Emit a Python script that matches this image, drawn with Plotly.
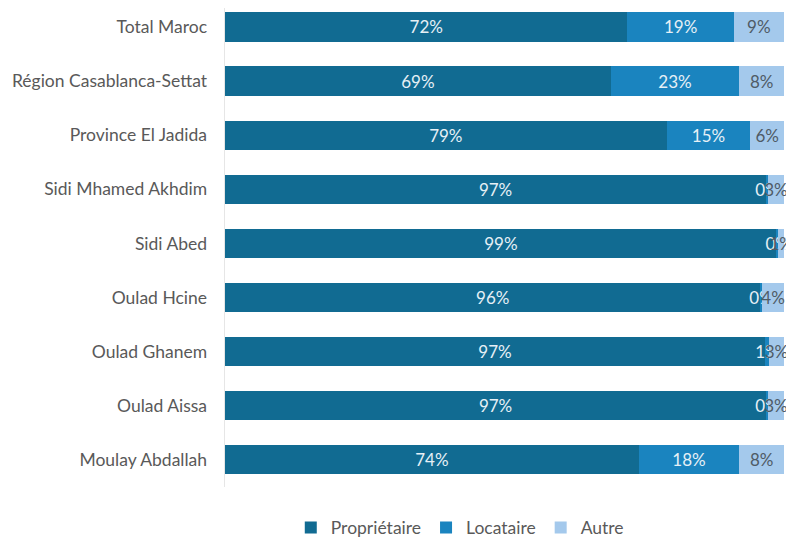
import plotly.graph_objects as go

categories = ["Total Maroc", "Région Casablanca-Settat", "Province El Jadida",
              "Sidi Mhamed Akhdim", "Sidi Abed", "Oulad Hcine", "Oulad Ghanem",
              "Oulad Aissa", "Moulay Abdallah"]
proprietaire = [72, 69, 79, 96.8, 98.7, 95.8, 96.6, 96.8, 74]
locataire = [19, 23, 15, 0.3, 0.3, 0.3, 0.7, 0.3, 18]
autre = [9, 8, 6, 2.9, 1.0, 3.9, 2.7, 2.9, 8]

series = [
    ("Propriétaire", proprietaire, "#116b92", "#e6f0f6"),
    ("Locataire", locataire, "#1a84bf", "#e6f0f6"),
    ("Autre", autre, "#a4c9ec", "#4f5b66"),
]

FS = 17.5
fig = go.Figure()
for name, vals, color, tcolor in series:
    fig.add_trace(go.Bar(
        y=categories, x=vals, name=name, orientation="h",
        marker=dict(color=color, line=dict(width=0)),
        texttemplate="%{x:.0f}%", textposition="inside", textangle=0,
        insidetextanchor="middle", constraintext="none", cliponaxis=False,
        textfont=dict(color=tcolor, size=17, family="Lato"),
        hoverinfo="skip",
    ))

fig.update_layout(
    barmode="stack", bargap=0.46,
    width=786, height=580,
    margin=dict(l=217, r=10, t=0, b=101),
    paper_bgcolor="white", plot_bgcolor="white",
    font=dict(family="Lato", size=FS, color="#595959"),
    xaxis=dict(range=[0, 100], visible=False, fixedrange=True),
    yaxis=dict(range=[8.503, -0.351], showline=True, linecolor="#e6e6e6",
               linewidth=1, ticks="", showgrid=False, automargin=False,
               ticksuffix="   ",
               tickfont=dict(size=FS, color="#595959")),
    legend=dict(orientation="h", x=0.42, xanchor="center", y=-0.047,
                yanchor="top", font=dict(size=FS, color="#595959"),
                traceorder="normal"),
    showlegend=True,
)

fig.write_html("out.html")
